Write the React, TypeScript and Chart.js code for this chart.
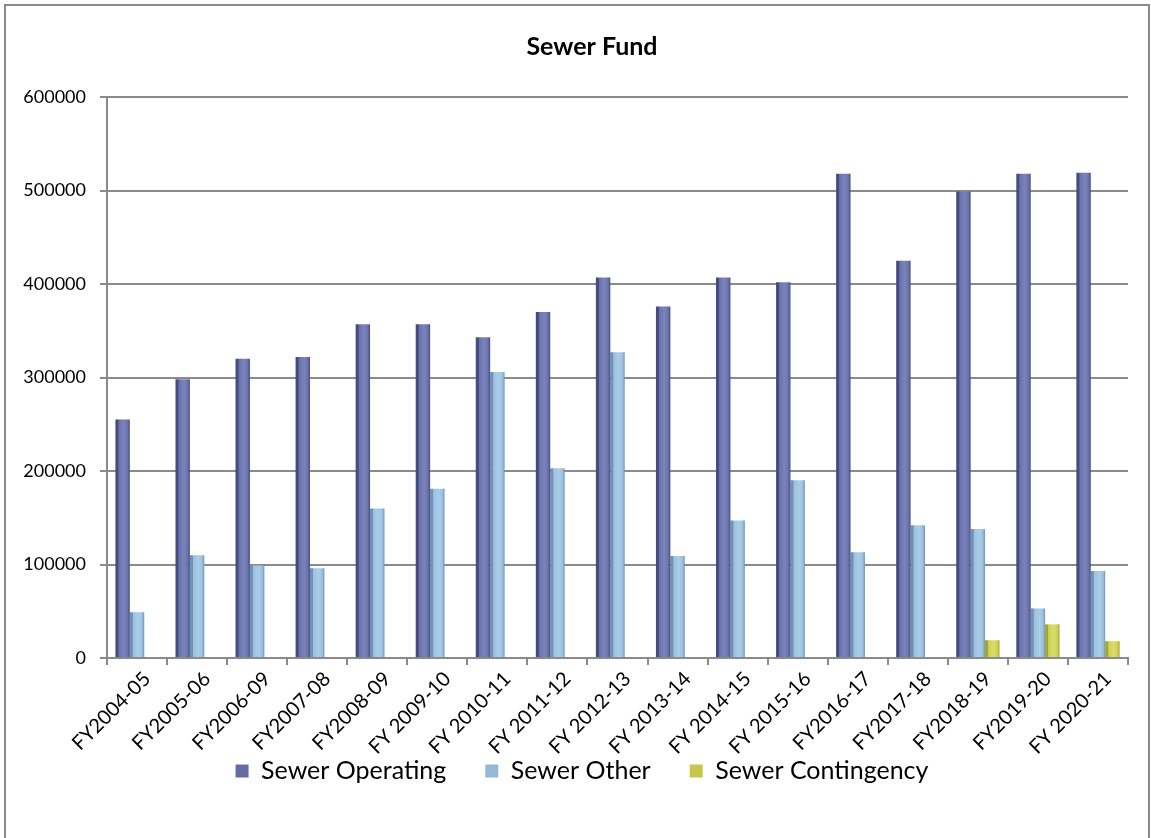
import React, { useEffect, useRef } from "react";
import { Chart, registerables } from "chart.js";

Chart.register(...registerables);

const categories = [
  "FY2004-05", "FY2005-06", "FY2006-09", "FY2007-08", "FY2008-09", "FY 2009-10",
  "FY 2010-11", "FY 2011-12", "FY 2012-13", "FY 2013-14", "FY 2014-15", "FY 2015-16",
  "FY2016-17", "FY2017-18", "FY2018-19", "FY2019-20", "FY 2020-21",
];

const sewerOperating = [
  255000, 298000, 320000, 322000, 357000, 357000, 343000, 370000, 407000,
  376000, 407000, 402000, 518000, 425000, 499000, 518000, 519000,
];

const sewerOther = [
  49000, 110000, 99000, 96000, 160000, 181000, 306000, 203000, 327000,
  109000, 147000, 190000, 113000, 142000, 138000, 53000, 93000,
];

const sewerContingency = [
  0, 0, 0, 0, 0, 0, 0, 0, 0, 0, 0, 0, 0, 0, 19000, 36000, 18000,
];

const seriesNames = ["Sewer Operating", "Sewer Other", "Sewer Contingency"];
const yTicks = [0, 100000, 200000, 300000, 400000, 500000, 600000];

const FONT = "Lato, 'Open Sans', sans-serif";

const shades = [
  { dark: "#454c7e", mid: "#6a72ab", light: "#7a83bb", solid: "#646ca6" },
  { dark: "#6f93b2", mid: "#9cc1df", light: "#aacde8", solid: "#93b8d8" },
  { dark: "#a2a52c", mid: "#cdd157", light: "#dadd6c", solid: "#c4c84a" },
];

const shadePlugin = {
  id: "shade3d",
  beforeDatasetsDraw(chart: any) {
    const ctx = chart.ctx;
    chart.data.datasets.forEach((_ds: any, di: number) => {
      const meta = chart.getDatasetMeta(di);
      const s = shades[di];
      meta.data.forEach((el: any) => {
        const w = el.width;
        const x0 = el.x - w / 2;
        const g = ctx.createLinearGradient(x0, 0, x0 + w, 0);
        g.addColorStop(0, s.dark);
        g.addColorStop(0.18, s.dark);
        g.addColorStop(0.24, s.mid);
        g.addColorStop(0.6, s.light);
        g.addColorStop(0.85, s.mid);
        g.addColorStop(1, s.dark);
        el.options = Object.assign({}, el.options, { backgroundColor: g });
      });
    });
  },
};

const framePlugin = {
  id: "frame",
  beforeDraw(chart: any) {
    const ctx = chart.ctx;
    ctx.save();
    ctx.fillStyle = "#ffffff";
    ctx.fillRect(0, 0, chart.width, chart.height);
    ctx.strokeStyle = "#8a8a8a";
    ctx.lineWidth = 2;
    ctx.beginPath();
    ctx.moveTo(5, chart.height + 2);
    ctx.lineTo(5, 5);
    ctx.lineTo(chart.width - 2, 5);
    ctx.lineTo(chart.width - 2, chart.height + 2);
    ctx.stroke();
    ctx.restore();
  },
};

const shiftPlugin = {
  id: "shiftBoxes",
  afterLayout(chart: any) {
    if (chart.legend) {
      chart.legend.left += 18;
      chart.legend.right += 18;
    }
    if (chart.titleBlock) {
      chart.titleBlock.left += 28;
      chart.titleBlock.right += 28;
    }
  },
};

export default function App() {
  const ref = useRef<HTMLCanvasElement | null>(null);

  useEffect(() => {
    if (!ref.current) return;
    const chart = new Chart(ref.current, {
      type: "bar",
      data: {
        labels: categories,
        datasets: [
          { label: seriesNames[0], data: sewerOperating, backgroundColor: shades[0].solid },
          { label: seriesNames[1], data: sewerOther, backgroundColor: shades[1].solid },
          { label: seriesNames[2], data: sewerContingency, backgroundColor: shades[2].solid },
        ],
      },
      options: {
        animation: false,
        responsive: false,
        maintainAspectRatio: false,
        layout: { padding: { left: 0, right: 23, top: 0, bottom: 44.5 } },
        datasets: {
          bar: { categoryPercentage: 0.72, barPercentage: 1.0, borderWidth: 0 },
        },
        plugins: {
          title: {
            display: true,
            text: "Sewer Fund",
            color: "#000",
            font: { family: FONT, size: 25, weight: "bold", lineHeight: 1.2 },
            padding: { top: 32, bottom: 35 },
          },
          legend: {
            position: "bottom",
            labels: {
              color: "#000",
              font: { family: FONT, size: 25 },
              boxWidth: 13,
              boxHeight: 13,
              padding: 39,
            },
          },
          tooltip: { enabled: false },
        },
        scales: {
          x: {
            grid: {
              display: true,
              drawOnChartArea: false,
              drawTicks: true,
              tickLength: 7,
              color: "#8a8a8a",
              lineWidth: 2,
            },
            border: { display: true, color: "#8a8a8a", width: 2 },
            ticks: {
              color: "#000",
              font: { family: FONT, size: 20 },
              minRotation: 45,
              maxRotation: 45,
              autoSkip: false,
              padding: 2,
              labelOffset: 10,
            },
            afterFit(scale: any) {
              scale.height = 61.5;
              scale._computeLabelArea = () => undefined;
            },
          },
          y: {
            min: 0,
            max: 600000,
            afterBuildTicks(scale: any) {
              scale.ticks = yTicks.map((v) => ({ value: v }));
            },
            grid: {
              color: "#8a8a8a",
              lineWidth: 2,
              tickLength: 7,
            },
            border: { display: true, color: "#8a8a8a", width: 2 },
            ticks: {
              color: "#000",
              font: { family: FONT, size: 18 },
              padding: 14,
              callback: (v: any) => String(v),
            },
            afterFit(scale: any) {
              scale.width = 107;
            },
          },
        },
      },
      plugins: [framePlugin, shadePlugin, shiftPlugin],
    } as any);
    return () => chart.destroy();
  }, []);

  return (
    <div style={{ position: "fixed", left: 0, top: 0, width: 1151, height: 838 }}>
      <canvas ref={ref} width={1151} height={838} style={{ width: 1151, height: 838, display: "block" }} />
    </div>
  );
}
